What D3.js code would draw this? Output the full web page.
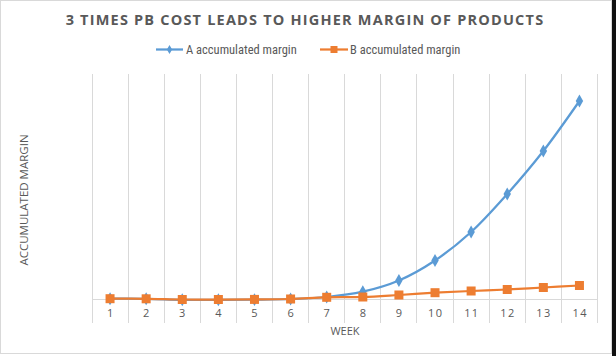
<!DOCTYPE html>
<html><head><meta charset="utf-8">
<script src="https://cdn.jsdelivr.net/npm/d3@7"></script>
<style>
html,body{margin:0;padding:0;background:#fff;}
svg{display:block;font-family:"Open Sans","Liberation Sans",sans-serif;}
</style></head>
<body>
<svg id="chart" width="616" height="356"></svg>
<script>
const weeks = [1,2,3,4,5,6,7,8,9,10,11,12,13,14];
const seriesA = [0.3, 0.2, -0.8, -0.8, -0.6, 0, 2, 7.3, 18.5, 38.5, 67, 105, 148, 198];
const seriesB = [0.3, 0.2, -0.5, -0.5, -0.4, 0, 1.7, 2, 4, 6.3, 8, 9.5, 11.5, 13.5];
const seriesNames = ["A accumulated margin", "B accumulated margin"];
const seriesColors = ["#5b9bd5", "#ed7d31"];
const titleText = "3 TIMES PB COST LEADS TO HIGHER MARGIN OF PRODUCTS";
const xTitle = "WEEK";
const yTitle = "ACCUMULATED MARGIN";

const svg = d3.select("#chart");
const W = 616, H = 356;

// frame
svg.append("rect").attr("x",0.5).attr("y",0.5).attr("width",611).attr("height",353)
  .attr("fill","#fff").attr("stroke","#d9d9d9");
svg.append("rect").attr("x",612).attr("y",0).attr("width",4).attr("height",H).attr("fill","#111");

const x = d3.scaleBand().domain(weeks).range([92, 597.5]).padding(0);
const y = d3.scaleLinear().domain([-25, 225]).range([324, 74]);

// vertical gridlines at band boundaries
const bounds = weeks.map(w => x(w)).concat([x(weeks[weeks.length-1]) + x.bandwidth()]);
svg.append("g").selectAll("line").data(bounds).join("line")
  .attr("x1", d => d).attr("x2", d => d)
  .attr("y1", y(225)).attr("y2", 323)
  .attr("stroke", "#d9d9d9").attr("stroke-width", 1).attr("shape-rendering","crispEdges");

// category axis line at zero
svg.append("line").attr("x1", 92).attr("x2", 597.5).attr("y1", y(0)).attr("y2", y(0))
  .attr("stroke", "#d9d9d9").attr("stroke-width", 1).attr("shape-rendering","crispEdges");

// tick labels
svg.append("g").selectAll("text").data(weeks).join("text")
  .attr("x", d => x(d) + x.bandwidth()/2 + 0.7)
  .attr("y", 317)
  .attr("text-anchor", "middle")
  .attr("font-size", 11).attr("letter-spacing", 1.4)
  .attr("fill", "#595959")
  .text(d => d);

// axis titles
svg.append("text").attr("x", 345).attr("y", 335).attr("text-anchor","middle")
  .attr("font-size", 11).attr("fill","#595959").text(xTitle);
svg.append("text").attr("transform","translate(28,200) rotate(-90)").attr("text-anchor","middle")
  .attr("font-size", 11.5).attr("fill","#595959").text(yTitle);

// title
svg.append("text").attr("x", 305).attr("y", 25).attr("text-anchor","middle")
  .attr("font-size", 14.5).attr("font-weight","bold").attr("letter-spacing", 1.2)
  .attr("fill","#595959").text(titleText);

const cx = d => x(d) + x.bandwidth()/2;
const line = d3.line().x((d,i) => cx(weeks[i])).y(d => y(d)).curve(d3.curveCatmullRom.alpha(0.5));

const data = [seriesA, seriesB];

data.forEach((vals, si) => {
  svg.append("path").datum(vals).attr("d", line)
    .attr("fill","none").attr("stroke", seriesColors[si]).attr("stroke-width", 2.25);
});
// A markers
svg.append("g").selectAll("path").data(seriesA).join("path")
  .attr("transform", (d,i) => `translate(${cx(weeks[i])},${y(d)})`)
  .attr("d", d3.symbol().type(d3.symbolDiamond).size(48))
  .attr("fill", seriesColors[0]);
// B markers
svg.append("g").selectAll("rect").data(seriesB).join("rect")
  .attr("x", (d,i) => cx(weeks[i]) - 4.5).attr("y", d => y(d) - 4.5)
  .attr("width", 9).attr("height", 9).attr("fill", seriesColors[1]);

// legend
const legend = [
  {name: seriesNames[0], color: seriesColors[0], x0: 156, x1: 183, tx: 186, type: "diamond"},
  {name: seriesNames[1], color: seriesColors[1], x0: 320, x1: 348, tx: 350, type: "square"}
];
const lg = svg.append("g");
legend.forEach(l => {
  lg.append("line").attr("x1", l.x0).attr("x2", l.x1).attr("y1", 49.5).attr("y2", 49.5)
    .attr("stroke", l.color).attr("stroke-width", 2.25);
  const mx = (l.x0 + l.x1)/2;
  if (l.type === "diamond") {
    lg.append("path").attr("transform", `translate(${mx},49.5)`)
      .attr("d", d3.symbol().type(d3.symbolDiamond).size(24)).attr("fill", l.color);
  } else {
    lg.append("rect").attr("x", mx-3.5).attr("y", 46).attr("width", 7).attr("height", 7).attr("fill", l.color);
  }
  lg.append("text").attr("x", l.tx).attr("y", 53.5).attr("font-size", 12.5)
    .attr("fill", "#595959").attr("font-family", "'Liberation Sans Narrow','Roboto Condensed','Open Sans',sans-serif")
    .text(l.name);
});
</script>
</body></html>
